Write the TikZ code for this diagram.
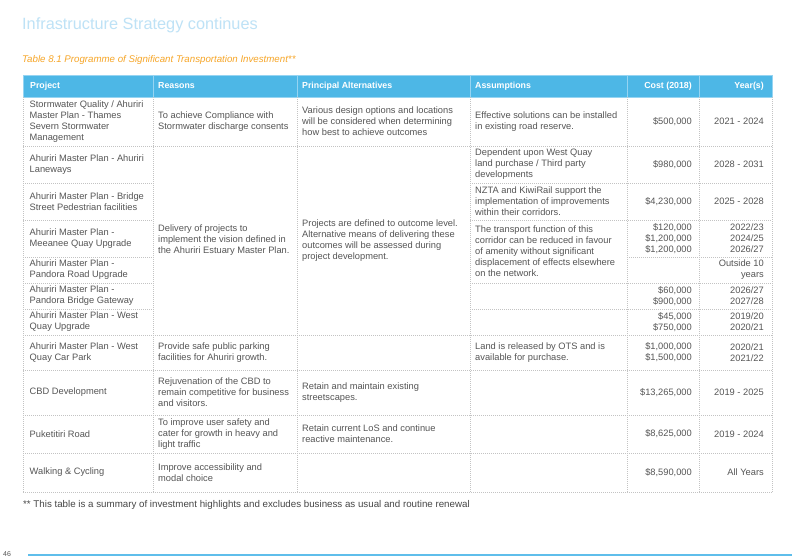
\documentclass[tikz,border=0pt]{standalone}
\usepackage{fontspec}
\setmainfont{Liberation Sans}
\definecolor{bodygray}{RGB}{85,85,85}
\definecolor{gridgray}{RGB}{195,195,195}
\definecolor{hdblue}{RGB}{77,183,230}
\definecolor{hdline}{RGB}{150,212,242}
\definecolor{titleblue}{RGB}{190,226,246}
\definecolor{capor}{RGB}{247,166,40}
\definecolor{footgray}{RGB}{70,70,70}
\definecolor{ruleblue}{RGB}{95,190,235}
\newcommand\bodyfnt{\fontsize{9.3}{11}\selectfont}
\newcommand\hdfnt{\fontsize{8.8}{10}\selectfont\bfseries}
\tikzset{
  txt/.style={font=\bodyfnt, text=bodygray, inner sep=0pt, align=left, anchor=west},
  num/.style={font=\bodyfnt, text=bodygray, inner sep=0pt, align=right, anchor=east},
  hd/.style={font=\hdfnt, text=white, inner sep=0pt, anchor=west},
  hdr/.style={font=\hdfnt, text=white, inner sep=0pt, anchor=east},
  gridline/.style={draw=gridgray, line width=0.5pt, dash pattern=on 1pt off 1pt},
  hdsep/.style={draw=hdline, line width=0.8pt}
}
\begin{document}
\begin{tikzpicture}[x=1pt,y=-1pt]
\useasboundingbox (0,0) rectangle (810,558);
\fill[white] (0,0) rectangle (810,558);

% title and caption
\node[anchor=west, inner sep=0pt, font=\fontsize{16.3}{18}\selectfont, text=titleblue] (title) at (22,25) {Infrastructure Strategy continues};
\node[anchor=west, inner sep=0pt, font=\fontsize{9.7}{11}\selectfont\itshape, text=capor] (caption) at (22,60) {Table 8.1 Programme of Significant Transportation Investment**};

% header
\fill[hdblue] (23,75) rectangle (772,97);
\draw[hdline, line width=0.8pt] (23,75) rectangle (772,97);
\foreach \xx in {153,297,470,627,699} \draw[hdsep] (\xx,75) -- (\xx,97);
\node[hd] (hproj) at (30,86) {Project};
\node[hd] (hreas) at (158,86) {Reasons};
\node[hd] (halt) at (302,86) {Principal Alternatives};
\node[hd] (hass) at (475,86) {Assumptions};
\node[hdr] (hcost) at (692,86) {Cost (2018)};
\node[hdr] (hyear) at (764,86) {Year(s)};

% grid: verticals
\foreach \xx in {23,153,297,470,627,699,772} \draw[gridline] (\xx,97) -- (\xx,492);
% grid: full-width horizontals
\foreach \yy in {146,335,370,415,453,492} \draw[gridline] (23,\yy) -- (772,\yy);
% partial horizontals
\foreach \yy in {183,220,257,283,309} \draw[gridline] (23,\yy) -- (153,\yy);
\foreach \yy in {183,220,283,309} \draw[gridline] (470,\yy) -- (772,\yy);
\draw[gridline] (627,257) -- (772,257);

% row 1
\node[txt] (p1) at (29.5,121.5) {Stormwater Quality / Ahuriri\\Master Plan - Thames\\Severn Stormwater\\Management};
\node[txt] (r1) at (158,121.5) {To achieve Compliance with\\Stormwater discharge consents};
\node[txt] (a1) at (302,121.5) {Various design options and locations\\will be considered when determining\\how best to achieve outcomes};
\node[txt] (s1) at (475,121.5) {Effective solutions can be installed\\in existing road reserve.};
\node[num] (c1) at (692,121.5) {\$500,000};
\node[num] (y1) at (764,121.5) {2021 - 2024};

% row 2
\node[txt] (p2) at (29.5,164.5) {Ahuriri Master Plan - Ahuriri\\Laneways};
\node[txt] (s2) at (475,164.5) {Dependent upon West Quay\\land purchase / Third party\\developments};
\node[num] (c2) at (692,164.5) {\$980,000};
\node[num] (y2) at (764,164.5) {2028 - 2031};

% row 3
\node[txt] (p3) at (29.5,201.5) {Ahuriri Master Plan - Bridge\\Street Pedestrian facilities};
\node[txt] (s3) at (475,201.5) {NZTA and KiwiRail support the\\implementation of improvements\\within their corridors.};
\node[num] (c3) at (692,201.5) {\$4,230,000};
\node[num] (y3) at (764,201.5) {2025 - 2028};

% merged reasons / alternatives rows 2-7
\node[txt] (r2) at (158,240.5) {Delivery of projects to\\implement the vision defined in\\the Ahuriri Estuary Master Plan.};
\node[txt] (a2) at (302,240.5) {Projects are defined to outcome level.\\Alternative means of delivering these\\outcomes will be assessed during\\project development.};

% row 4
\node[txt] (p4) at (29.5,238.5) {Ahuriri Master Plan -\\Meeanee Quay Upgrade};
\node[txt] (s4) at (475,251.5) {The transport function of this\\corridor can be reduced in favour\\of amenity without significant\\displacement of effects elsewhere\\on the network.};
\node[num] (c4) at (692,238.5) {\$120,000\\\$1,200,000\\\$1,200,000};
\node[num] (y4) at (764,238.5) {2022/23\\2024/25\\2026/27};

% row 5
\node[txt] (p5) at (29.5,270) {Ahuriri Master Plan -\\Pandora Road Upgrade};
\node[num] (y5) at (764,270) {Outside 10\\years};

% row 6
\node[txt] (p6) at (29.5,296) {Ahuriri Master Plan -\\Pandora Bridge Gateway};
\node[num] (c6) at (692,296) {\$60,000\\\$900,000};
\node[num] (y6) at (764,296) {2026/27\\2027/28};

% row 7
\node[txt] (p7) at (29.5,322) {Ahuriri Master Plan - West\\Quay Upgrade};
\node[num] (c7) at (692,322) {\$45,000\\\$750,000};
\node[num] (y7) at (764,322) {2019/20\\2020/21};

% row 8
\node[txt] (p8) at (29.5,352.5) {Ahuriri Master Plan - West\\Quay Car Park};
\node[txt] (r8) at (158,352.5) {Provide safe public parking\\facilities for Ahuriri growth.};
\node[txt] (s8) at (475,352.5) {Land is released by OTS and is\\available for purchase.};
\node[num] (c8) at (692,352.5) {\$1,000,000\\\$1,500,000};
\node[num] (y8) at (764,352.5) {2020/21\\2021/22};

% row 9
\node[txt] (p9) at (29.5,392.5) {CBD Development};
\node[txt] (r9) at (158,392.5) {Rejuvenation of the CBD to\\remain competitive for business\\and visitors.};
\node[txt] (a9) at (302,392.5) {Retain and maintain existing\\streetscapes.};
\node[num] (c9) at (692,392.5) {\$13,265,000};
\node[num] (y9) at (764,392.5) {2019 - 2025};

% row 10
\node[txt] (p10) at (29.5,434) {Puketitiri Road};
\node[txt] (r10) at (158,434) {To improve user safety and\\cater for growth in heavy and\\light traffic};
\node[txt] (a10) at (302,434) {Retain current LoS and continue\\reactive maintenance.};
\node[num] (c10) at (692,434) {\$8,625,000};
\node[num] (y10) at (764,434) {2019 - 2024};

% row 11
\node[txt] (p11) at (29.5,472.5) {Walking \& Cycling};
\node[txt] (r11) at (158,472.5) {Improve accessibility and\\modal choice};
\node[num] (c11) at (692,472.5) {\$8,590,000};
\node[num] (y11) at (764,472.5) {All Years};

% footnote
\node[anchor=west, inner sep=0pt, font=\fontsize{9.75}{11}\selectfont, text=footgray] (foot) at (23,505) {** This table is a summary of investment highlights and excludes business as usual and routine renewal};

% page footer
\coordinate (ruleA) at (28,555);
\coordinate (ruleB) at (792,555);
\draw[ruleblue, line width=1.2pt] (ruleA) -- (ruleB);
\node[anchor=west, inner sep=0pt, font=\fontsize{7}{8}\selectfont, text=bodygray] (pagenum) at (3,554) {46};
\end{tikzpicture}
\end{document}
